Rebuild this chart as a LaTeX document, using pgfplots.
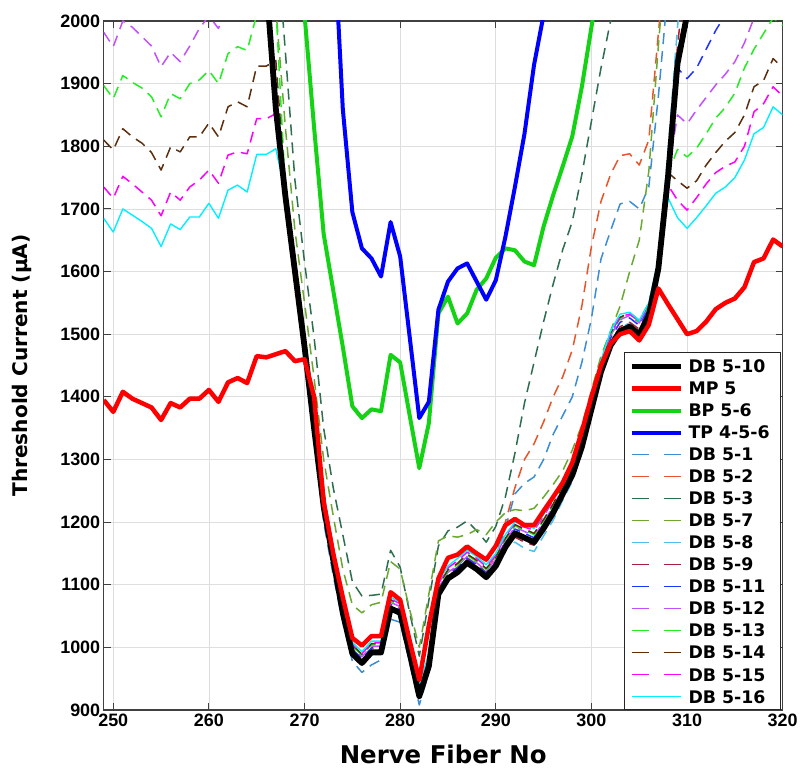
\documentclass[border=0pt]{standalone}
\usepackage{fontspec}
\setmainfont{Liberation Sans}
\newfontfamily\dejavu{DejaVu Sans}
\usepackage{pgfplots}
\pgfplotsset{compat=1.18}
\definecolor{cA}{HTML}{3B8ED6}
\definecolor{cB}{HTML}{E8552A}
\definecolor{cC}{HTML}{2D6E4E}
\definecolor{cD}{HTML}{6AA832}
\definecolor{cE}{HTML}{4DBEEE}
\definecolor{cF}{HTML}{A8203A}
\definecolor{cG}{HTML}{2233FF}
\definecolor{cH}{HTML}{C050FF}
\definecolor{cI}{HTML}{22EE22}
\definecolor{cJ}{HTML}{5C2E0E}
\definecolor{cK}{HTML}{FF00FF}
\definecolor{cL}{HTML}{00F0FF}
\definecolor{gBP}{HTML}{14D214}
\tikzset{thin dash/.style={line width=1.5bp, dash pattern=on 11bp off 7bp},
  leg dash/.style={line width=1.5bp, dash pattern=on 17bp off 15bp},
  leg txt/.style={anchor=base west, inner sep=0pt, font=\fontsize{17.4}{17.4}\selectfont\dejavu\bfseries}}
\begin{document}
\begin{tikzpicture}
\begin{axis}[
  at={(0,0)}, anchor=south west,
  width=679bp, height=689bp, scale only axis,
  xmin=249, xmax=320, ymin=900, ymax=2000,
  xtick={250,260,...,320}, ytick={900,1000,...,2000},
  grid=major, major grid style={color=black!13, line width=0.7bp},
  axis line style={color=black!75, line width=1.2bp},
  tick style={color=black!75, line width=1bp},
  tick align=inside, major tick length=7bp,
  /pgf/number format/assume math mode=true,
  /pgf/number format/1000 sep={},
  tick label style={font=\fontsize{18}{18}\selectfont\bfseries},
  xlabel={Nerve Fiber No}, ylabel={Threshold Current (µA)},
  xlabel style={at={(axis description cs:0.5,-0.064)}, anchor=center, inner sep=0pt, font=\fontsize{24.5}{24.5}\selectfont\dejavu\bfseries},
  ylabel style={at={(axis description cs:-0.121,0.5)}, anchor=center, inner sep=0pt, font=\fontsize{20.2}{20.2}\selectfont\dejavu\bfseries},
  every axis plot/.append style={line join=round},
]
% DB 5-1
\addplot[cA, thin dash] coordinates {
(265,2250)(266,2040)(267,1840)(268,1700)(269,1580)(270,1460)(271,1330)(272,1200)(273,1115)(274,1040)(275,978)(276,960)(277,972)(278,980)(279,1045)(280,1040)(281,975)(282,908)(283,960)(284,1082)(285,1108)(286,1120)(287,1133)(288,1126)(289,1114)(290,1140)(291,1190)(292,1245)(293,1262)(294,1272)(295,1300)(296,1340)(297,1370)(298,1400)(299,1455)(300,1525)(301,1620)(302,1665)(303,1708)(304,1712)(305,1700)(306,1735)(307,1880)(308,2050)(309,2250)};
% DB 5-2
\addplot[cB, thin dash] coordinates {
(265,2250)(266,2060)(267,1862)(268,1722)(269,1602)(270,1482)(271,1352)(272,1227)(273,1142)(274,1060)(275,996)(276,982)(277,998)(278,998)(279,1068)(280,1061)(281,996)(282,928)(283,976)(284,1092)(285,1118)(286,1128)(287,1143)(288,1133)(289,1120)(290,1148)(291,1200)(292,1255)(293,1300)(294,1325)(295,1360)(296,1400)(297,1432)(298,1475)(299,1545)(300,1640)(301,1712)(302,1755)(303,1785)(304,1788)(305,1770)(306,1810)(307,1980)(308,2150)};
% DB 5-3
\addplot[cC, thin dash] coordinates {
(267,2150)(268,1950)(269,1745)(270,1615)(271,1495)(272,1350)(273,1255)(274,1180)(275,1105)(276,1082)(277,1083)(278,1085)(279,1155)(280,1128)(281,1055)(282,986)(283,1075)(284,1162)(285,1186)(286,1192)(287,1202)(288,1186)(289,1168)(290,1193)(291,1240)(292,1310)(293,1390)(294,1455)(295,1520)(296,1580)(297,1635)(298,1680)(299,1755)(300,1840)(301,1925)(302,2000)(303,2100)};
% DB 5-7
\addplot[cD, thin dash] coordinates {
(266,2200)(267,2020)(268,1830)(269,1665)(270,1550)(271,1430)(272,1300)(273,1210)(274,1125)(275,1068)(276,1055)(277,1068)(278,1072)(279,1137)(280,1125)(281,1060)(282,1000)(283,1085)(284,1170)(285,1178)(286,1176)(287,1180)(288,1188)(289,1180)(290,1200)(291,1215)(292,1220)(293,1218)(294,1222)(295,1240)(296,1260)(297,1282)(298,1315)(299,1355)(300,1410)(301,1465)(302,1505)(303,1545)(304,1600)(305,1650)(306,1760)(307,1960)(308,2150)};
% DB 5-8
\addplot[cE, thin dash] coordinates {
(265,2250)(266,2070)(267,1862)(268,1722)(269,1602)(270,1482)(271,1352)(272,1227)(273,1142)(274,1057)(275,992)(276,977)(277,994)(278,994)(279,1064)(280,1057)(281,992)(282,924)(283,972)(284,1087)(285,1112)(286,1122)(287,1137)(288,1127)(289,1114)(290,1132)(291,1160)(292,1168)(293,1158)(294,1153)(295,1178)(296,1203)(297,1235)(298,1265)(299,1312)(300,1378)(301,1440)(302,1484)(303,1510)(304,1518)(305,1506)(306,1535)(307,1620)(308,1790)(309,1990)(310,2150)};
% DB 5-9
\addplot[cF, thin dash] coordinates {
(265,2250)(266,2070)(267,1864)(268,1724)(269,1604)(270,1484)(271,1354)(272,1229)(273,1144)(274,1059)(275,994)(276,979)(277,996)(278,996)(279,1066)(280,1059)(281,994)(282,926)(283,974)(284,1089)(285,1114)(286,1125)(287,1140)(288,1130)(289,1117)(290,1135)(291,1162)(292,1176)(293,1168)(294,1163)(295,1185)(296,1210)(297,1242)(298,1278)(299,1325)(300,1384)(301,1445)(302,1488)(303,1512)(304,1519)(305,1508)(306,1537)(307,1612)(308,1770)(309,1960)(310,2100)};
% DB 5-11
\addplot[cG, thin dash] coordinates {
(265,2250)(266,2064)(267,1866)(268,1726)(269,1606)(270,1486)(271,1356)(272,1231)(273,1146)(274,1062)(275,997)(276,982)(277,999)(278,999)(279,1069)(280,1062)(281,997)(282,929)(283,977)(284,1092)(285,1117)(286,1127)(287,1142)(288,1132)(289,1119)(290,1137)(291,1167)(292,1189)(293,1182)(294,1175)(295,1197)(296,1222)(297,1252)(298,1282)(299,1327)(300,1387)(301,1450)(302,1494)(303,1519)(304,1526)(305,1514)(306,1542)(307,1612)(308,1752)(309,1925)(310,1908)(311,1925)(312,1955)(313,1985)(314,2010)(315,2060)};
% DB 5-12
\addplot[cH, thin dash] coordinates {
(249,1982)(250,1959)(251,2000)(252,1990)(253,1975)(254,1960)(255,1927)(256,1950)(257,1935)(258,1960)(259,1988)(260,2008)(261,1988)(262,2030)(263,2040)(264,2040)(265,2100)(266,2100)(267,1866)(268,1728)(269,1608)(270,1488)(271,1358)(272,1233)(273,1149)(274,1065)(275,1000)(276,985)(277,1002)(278,1002)(279,1072)(280,1065)(281,1000)(282,932)(283,980)(284,1095)(285,1120)(286,1130)(287,1145)(288,1135)(289,1122)(290,1140)(291,1170)(292,1192)(293,1185)(294,1178)(295,1200)(296,1225)(297,1255)(298,1285)(299,1330)(300,1390)(301,1452)(302,1498)(303,1523)(304,1530)(305,1518)(306,1545)(307,1614)(308,1756)(309,1850)(310,1836)(311,1858)(312,1878)(313,1898)(314,1915)(315,1935)(316,1965)(317,2005)(318,2030)(319,2060)(320,2050)};
% DB 5-13
\addplot[cI, thin dash] coordinates {
(249,1897)(250,1876)(251,1913)(252,1902)(253,1893)(254,1879)(255,1847)(256,1884)(257,1876)(258,1900)(259,1906)(260,1921)(261,1900)(262,1948)(263,1959)(264,1953)(265,2010)(266,2015)(267,2025)(268,1730)(269,1610)(270,1490)(271,1360)(272,1235)(273,1151)(274,1067)(275,1002)(276,987)(277,1004)(278,1004)(279,1074)(280,1067)(281,1002)(282,934)(283,982)(284,1097)(285,1122)(286,1132)(287,1147)(288,1137)(289,1124)(290,1142)(291,1172)(292,1194)(293,1187)(294,1180)(295,1202)(296,1227)(297,1257)(298,1287)(299,1332)(300,1392)(301,1454)(302,1500)(303,1525)(304,1532)(305,1520)(306,1547)(307,1615)(308,1756)(309,1795)(310,1783)(311,1797)(312,1820)(313,1845)(314,1862)(315,1885)(316,1925)(317,1955)(318,1980)(319,2005)(320,1993)};
% DB 5-14
\addplot[cJ, thin dash] coordinates {
(249,1810)(250,1794)(251,1828)(252,1815)(253,1805)(254,1790)(255,1762)(256,1799)(257,1791)(258,1815)(259,1815)(260,1837)(261,1815)(262,1863)(263,1871)(264,1863)(265,1928)(266,1928)(267,1937)(268,1730)(269,1612)(270,1492)(271,1362)(272,1237)(273,1153)(274,1069)(275,1004)(276,989)(277,1006)(278,1006)(279,1076)(280,1069)(281,1004)(282,936)(283,984)(284,1099)(285,1124)(286,1134)(287,1149)(288,1139)(289,1126)(290,1144)(291,1174)(292,1196)(293,1189)(294,1182)(295,1204)(296,1229)(297,1259)(298,1289)(299,1334)(300,1394)(301,1455)(302,1502)(303,1527)(304,1534)(305,1522)(306,1549)(307,1616)(308,1758)(309,1745)(310,1733)(311,1745)(312,1770)(313,1790)(314,1808)(315,1822)(316,1850)(317,1895)(318,1905)(319,1940)(320,1925)};
% DB 5-15
\addplot[cK, thin dash] coordinates {
(249,1735)(250,1717)(251,1752)(252,1740)(253,1727)(254,1714)(255,1689)(256,1727)(257,1714)(258,1735)(259,1746)(260,1762)(261,1741)(262,1786)(263,1791)(264,1788)(265,1844)(266,1844)(267,1852)(268,1725)(269,1605)(270,1485)(271,1355)(272,1228)(273,1148)(274,1068)(275,1005)(276,990)(277,1007)(278,1007)(279,1077)(280,1070)(281,1005)(282,937)(283,987)(284,1102)(285,1127)(286,1138)(287,1152)(288,1142)(289,1129)(290,1147)(291,1177)(292,1198)(293,1192)(294,1187)(295,1209)(296,1235)(297,1265)(298,1295)(299,1340)(300,1398)(301,1456)(302,1502)(303,1528)(304,1532)(305,1520)(306,1548)(307,1618)(308,1738)(309,1714)(310,1698)(311,1718)(312,1740)(313,1758)(314,1768)(315,1775)(316,1800)(317,1855)(318,1868)(319,1895)(320,1880)};
% DB 5-16
\addplot[cL, line width=1.4bp] coordinates {
(249,1685)(250,1663)(251,1700)(252,1690)(253,1680)(254,1669)(255,1640)(256,1676)(257,1667)(258,1687)(259,1687)(260,1709)(261,1685)(262,1730)(263,1738)(264,1727)(265,1787)(266,1787)(267,1796)(268,1725)(269,1605)(270,1485)(271,1355)(272,1228)(273,1150)(274,1070)(275,1008)(276,993)(277,1010)(278,1010)(279,1080)(280,1072)(281,1008)(282,940)(283,990)(284,1105)(285,1130)(286,1142)(287,1155)(288,1145)(289,1132)(290,1150)(291,1180)(292,1200)(293,1195)(294,1190)(295,1212)(296,1238)(297,1268)(298,1298)(299,1342)(300,1400)(301,1458)(302,1505)(303,1532)(304,1535)(305,1522)(306,1550)(307,1620)(308,1718)(309,1686)(310,1669)(311,1686)(312,1705)(313,1725)(314,1735)(315,1750)(316,1778)(317,1820)(318,1830)(319,1863)(320,1850)};
% DB 5-10
\addplot[black, line width=5.8bp] coordinates {
(265,2250)(266,2060)(267,1860)(268,1720)(269,1600)(270,1480)(271,1350)(272,1225)(273,1140)(274,1055)(275,990)(276,975)(277,992)(278,992)(279,1062)(280,1055)(281,990)(282,922)(283,970)(284,1085)(285,1110)(286,1120)(287,1135)(288,1125)(289,1112)(290,1130)(291,1160)(292,1182)(293,1175)(294,1168)(295,1190)(296,1215)(297,1245)(298,1275)(299,1320)(300,1380)(301,1440)(302,1482)(303,1505)(304,1512)(305,1500)(306,1530)(307,1605)(308,1750)(309,1932)(310,2010)(311,2100)};
% MP 5
\addplot[red, line width=4.5bp] coordinates {
(249,1395)(250,1376)(251,1408)(252,1397)(253,1390)(254,1383)(255,1363)(256,1390)(257,1383)(258,1397)(259,1397)(260,1411)(261,1392)(262,1423)(263,1430)(264,1422)(265,1465)(266,1463)(267,1468)(268,1473)(269,1457)(270,1460)(271,1400)(272,1232)(273,1150)(274,1080)(275,1015)(276,1003)(277,1018)(278,1018)(279,1088)(280,1076)(281,1010)(282,948)(283,1035)(284,1110)(285,1143)(286,1148)(287,1161)(288,1150)(289,1140)(290,1162)(291,1195)(292,1205)(293,1195)(294,1195)(295,1218)(296,1240)(297,1263)(298,1295)(299,1345)(300,1400)(301,1450)(302,1485)(303,1500)(304,1505)(305,1490)(306,1515)(307,1573)(308,1548)(309,1524)(310,1500)(311,1505)(312,1520)(313,1540)(314,1550)(315,1557)(316,1575)(317,1615)(318,1621)(319,1651)(320,1640)};
% BP 5-6
\addplot[gBP, line width=4bp] coordinates {
(269,2150)(270,2010)(271,1830)(272,1660)(273,1570)(274,1480)(275,1385)(276,1366)(277,1380)(278,1377)(279,1467)(280,1455)(281,1370)(282,1286)(283,1358)(284,1533)(285,1560)(286,1517)(287,1533)(288,1571)(289,1589)(290,1622)(291,1637)(292,1634)(293,1616)(294,1610)(295,1672)(296,1722)(297,1768)(298,1816)(299,1895)(300,1990)(301,2090)};
% TP 4-5-6
\addplot[blue, line width=4bp] coordinates {
(273,2160)(274,1860)(275,1695)(276,1637)(277,1621)(278,1592)(279,1679)(280,1624)(281,1495)(282,1366)(283,1392)(284,1539)(285,1584)(286,1605)(287,1613)(288,1584)(289,1555)(290,1586)(291,1655)(292,1735)(293,1820)(294,1930)(295,2010)(296,2100)};
\end{axis}
% legend box (lower right corner of the axis)
\draw[black!85, line width=0.8bp, fill=white] (521bp,0.8bp) rectangle (676.5bp,358bp);
\draw[black, line width=5.5bp] (528bp,343.3bp) -- (577bp,343.3bp);
\node[leg txt] at (584.6bp,337bp) {DB 5-10};
\draw[red, line width=4.5bp] (528bp,321.3bp) -- (577bp,321.3bp);
\node[leg txt] at (584.6bp,315bp) {MP 5};
\draw[gBP, line width=4bp] (528bp,299.3bp) -- (577bp,299.3bp);
\node[leg txt] at (584.6bp,293bp) {BP 5-6};
\draw[blue, line width=4bp] (528bp,277.3bp) -- (577bp,277.3bp);
\node[leg txt] at (584.6bp,271bp) {TP 4-5-6};
\draw[cA, leg dash] (528bp,255.3bp) -- (577bp,255.3bp);
\node[leg txt] at (584.6bp,249bp) {DB 5-1};
\draw[cB, leg dash] (528bp,233.3bp) -- (577bp,233.3bp);
\node[leg txt] at (584.6bp,227bp) {DB 5-2};
\draw[cC, leg dash] (528bp,211.3bp) -- (577bp,211.3bp);
\node[leg txt] at (584.6bp,205bp) {DB 5-3};
\draw[cD, leg dash] (528bp,189.3bp) -- (577bp,189.3bp);
\node[leg txt] at (584.6bp,183bp) {DB 5-7};
\draw[cE, leg dash] (528bp,167.3bp) -- (577bp,167.3bp);
\node[leg txt] at (584.6bp,161bp) {DB 5-8};
\draw[cF, leg dash] (528bp,145.3bp) -- (577bp,145.3bp);
\node[leg txt] at (584.6bp,139bp) {DB 5-9};
\draw[cG, leg dash] (528bp,123.3bp) -- (577bp,123.3bp);
\node[leg txt] at (584.6bp,117bp) {DB 5-11};
\draw[cH, leg dash] (528bp,101.3bp) -- (577bp,101.3bp);
\node[leg txt] at (584.6bp,95bp) {DB 5-12};
\draw[cI, leg dash] (528bp,79.3bp) -- (577bp,79.3bp);
\node[leg txt] at (584.6bp,73bp) {DB 5-13};
\draw[cJ, leg dash] (528bp,57.3bp) -- (577bp,57.3bp);
\node[leg txt] at (584.6bp,51bp) {DB 5-14};
\draw[cK, leg dash] (528bp,35.3bp) -- (577bp,35.3bp);
\node[leg txt] at (584.6bp,29bp) {DB 5-15};
\draw[cL, line width=1.4bp] (528bp,13.3bp) -- (577bp,13.3bp);
\node[leg txt] at (584.6bp,7bp) {DB 5-16};
\pgfresetboundingbox
\path[use as bounding box] (-103.7bp,-59bp) rectangle (700.3bp,710bp);
\end{tikzpicture}
\end{document}
